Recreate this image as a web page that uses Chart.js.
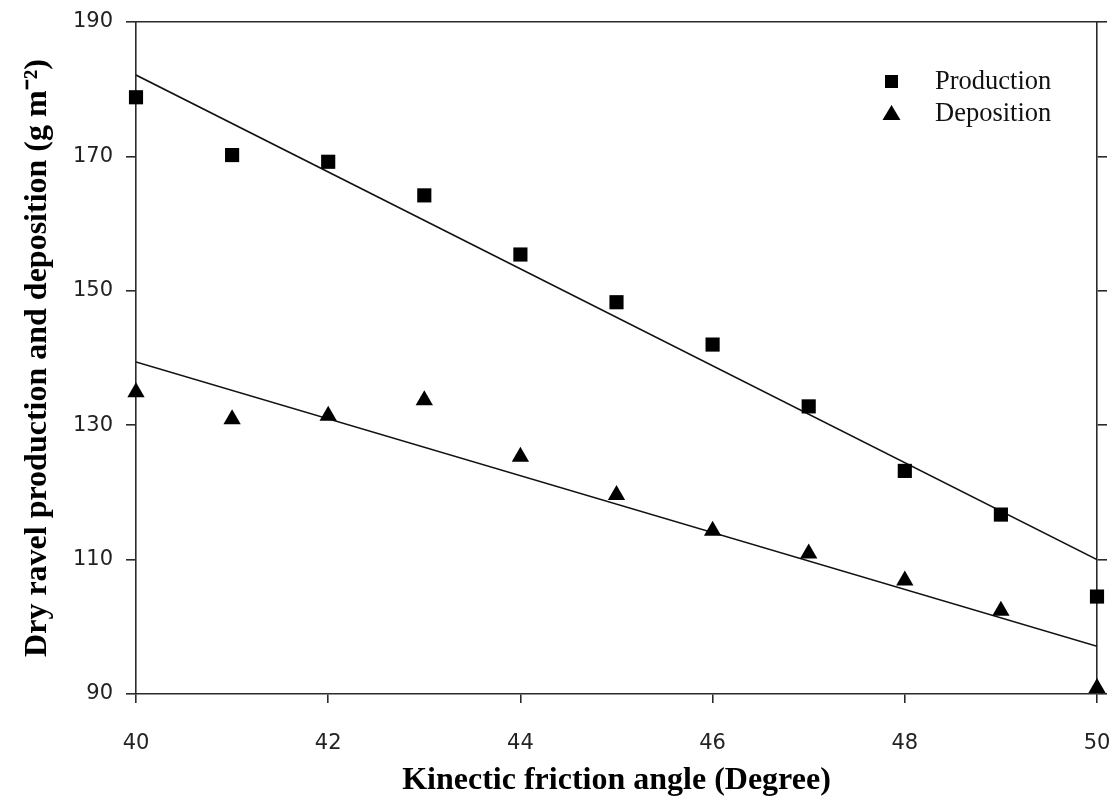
<!DOCTYPE html>
<html>
<head>
<meta charset="utf-8">
<script src="https://cdn.jsdelivr.net/npm/chart.js@4.4.1/dist/chart.umd.min.js"></script>
<style>
  html, body { margin: 0; padding: 0; background: #ffffff; }
  canvas { display: block; }
</style>
</head>
<body>
<canvas id="c" width="1113" height="810"></canvas>
<script>
// ---- data ----
const angles = [40, 41, 42, 43, 44, 45, 46, 47, 48, 49, 50];
const production = [178.8, 170.2, 169.2, 164.2, 155.4, 148.3, 142.0, 132.8, 123.2, 116.7, 104.5];
const deposition = [134.9, 130.9, 131.4, 133.7, 125.3, 119.6, 114.3, 110.9, 106.9, 102.4, 90.9];
const productionFitX = [40, 50];
const productionFitY = [182.1, 110.0];
const depositionFitX = [40, 50];
const depositionFitY = [139.4, 97.1];
const xTicks = [40, 42, 44, 46, 48, 50];
const yTicks = [90, 110, 130, 150, 170, 190];
const seriesNames = ['Production', 'Deposition'];

const toPts = (xs, ys) => xs.map((x, i) => ({ x: x, y: ys[i] }));

const AXIS = '#2b2b2b';

const legendPlugin = {
  id: 'innerLegend',
  afterDraw(chart) {
    const ctx = chart.ctx;
    ctx.save();
    ctx.fillStyle = '#000';
    // square
    ctx.fillRect(885, 75, 13, 13);
    // triangle
    ctx.beginPath();
    ctx.moveTo(891.5, 105);
    ctx.lineTo(900.5, 120);
    ctx.lineTo(882.5, 120);
    ctx.closePath();
    ctx.fill();
    ctx.font = '26.5px "Liberation Serif", "Times New Roman", serif';
    ctx.textBaseline = 'alphabetic';
    ctx.textAlign = 'left';
    ctx.fillStyle = '#111';
    ctx.fillText(seriesNames[0], 935, 89);
    ctx.fillText(seriesNames[1], 935, 121);
    ctx.restore();
  }
};

new Chart(document.getElementById('c'), {
  type: 'scatter',
  data: {
    datasets: [
      {
        label: seriesNames[0],
        data: toPts(angles, production),
        pointStyle: 'rect',
        pointRadius: 10,
        pointHoverRadius: 10,
        backgroundColor: '#000',
        borderColor: '#000',
        borderWidth: 0,
        clip: false,
        order: 1
      },
      {
        label: seriesNames[1],
        data: toPts(angles, deposition),
        pointStyle: 'triangle',
        pointRadius: 10,
        pointHoverRadius: 10,
        backgroundColor: '#000',
        borderColor: '#000',
        borderWidth: 0,
        clip: false,
        order: 1
      },
      {
        label: 'Production fit',
        type: 'line',
        data: toPts(productionFitX, productionFitY),
        borderColor: '#111',
        borderWidth: 1.6,
        pointRadius: 0,
        fill: false,
        order: 2
      },
      {
        label: 'Deposition fit',
        type: 'line',
        data: toPts(depositionFitX, depositionFitY),
        borderColor: '#111',
        borderWidth: 1.6,
        pointRadius: 0,
        fill: false,
        order: 2
      }
    ]
  },
  options: {
    responsive: false,
    animation: false,
    devicePixelRatio: 1,
    layout: { padding: { top: 22, left: 0, right: 0, bottom: 0 } },
    plugins: {
      legend: { display: false },
      tooltip: { enabled: false },
      title: { display: false }
    },
    scales: {
      x: {
        type: 'linear',
        position: 'bottom',
        min: 40, max: 50,
        afterBuildTicks: s => { s.ticks = xTicks.map(v => ({ value: v })); },
        afterFit: s => { s.height = 116; s.paddingLeft = 0; s.paddingRight = 0; },
        ticks: {
          color: '#222',
          font: { family: '"DejaVu Sans", Verdana, sans-serif', size: 21 },
          padding: 28,
          maxRotation: 0
        },
        grid: { drawOnChartArea: false, drawTicks: true, tickLength: 9, color: AXIS, lineWidth: 1.6 },
        border: { display: true, color: AXIS, width: 1.6 },
        title: {
          display: true,
          text: 'Kinectic friction angle (Degree)',
          color: '#000',
          font: { family: '"Liberation Serif", "Times New Roman", serif', size: 32, weight: 'bold' },
          padding: { top: 10, bottom: 10 }
        }
      },
      x2: {
        type: 'linear',
        position: 'top',
        min: 40, max: 50,
        afterFit: s => { s.height = 0; s.paddingLeft = 0; s.paddingRight = 0; },
        ticks: { display: false },
        grid: { display: false, drawTicks: false },
        border: { display: true, color: AXIS, width: 1.6 }
      },
      y: {
        type: 'linear',
        position: 'left',
        min: 90, max: 190,
        afterBuildTicks: s => { s.ticks = yTicks.map(v => ({ value: v })); },
        afterFit: s => { s.width = 136; s.paddingTop = 0; s.paddingBottom = 0; },
        ticks: {
          color: '#222',
          font: { family: '"DejaVu Sans", Verdana, sans-serif', size: 21 },
          padding: 13
        },
        grid: { drawOnChartArea: false, drawTicks: true, tickLength: 10, color: AXIS, lineWidth: 1.6 },
        border: { display: true, color: AXIS, width: 1.6 },
        title: {
          display: true,
          text: 'Dry ravel production and deposition (g m\u207B\u00B2)',
          color: '#000',
          font: { family: '"Liberation Serif", "Times New Roman", serif', size: 32, weight: 'bold' },
          padding: { top: 19, bottom: 19 }
        }
      },
      y2: {
        type: 'linear',
        position: 'right',
        min: 90, max: 190,
        afterBuildTicks: s => { s.ticks = yTicks.map(v => ({ value: v })); },
        afterFit: s => { s.width = 16; s.paddingTop = 0; s.paddingBottom = 0; },
        ticks: { display: false },
        grid: { drawOnChartArea: false, drawTicks: true, tickLength: 10, color: AXIS, lineWidth: 1.6 },
        border: { display: true, color: AXIS, width: 1.6 }
      }
    }
  },
  plugins: [legendPlugin]
});
</script>
</body>
</html>
